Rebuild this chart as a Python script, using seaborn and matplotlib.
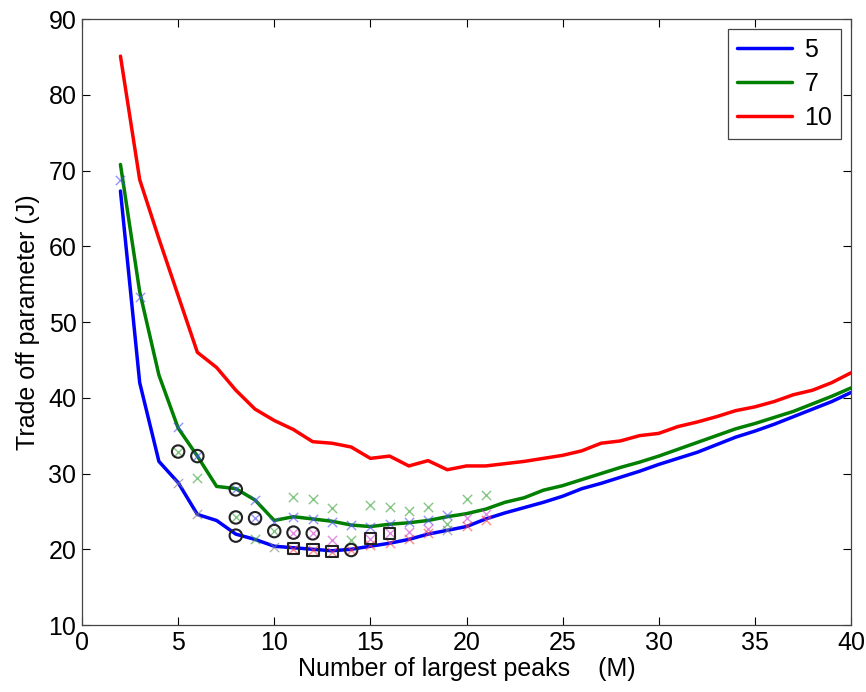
import numpy as np
import pandas as pd
import matplotlib
matplotlib.use("Agg")
import matplotlib.pyplot as plt
import seaborn as sns

# number of largest peaks M
m_vals = list(range(2, 41))

# trade-off parameter J for each window size
j_5 = [67.3, 42.0, 31.6, 28.8, 24.6, 23.8, 22.0, 21.3, 20.4, 20.2, 20.0, 19.8, 20.0,
       20.4, 20.8, 21.3, 22.0, 22.5, 23.0, 24.0, 24.8, 25.5, 26.2, 27.0, 28.0, 28.7,
       29.5, 30.3, 31.2, 32.0, 32.8, 33.8, 34.8, 35.6, 36.5, 37.5, 38.5, 39.5, 40.7]
j_7 = [70.8, 54.0, 43.0, 36.0, 32.3, 28.3, 28.0, 26.5, 23.8, 24.3, 24.0, 23.7, 23.2,
       23.0, 23.3, 23.5, 23.8, 24.3, 24.7, 25.3, 26.2, 26.8, 27.8, 28.4, 29.2, 30.0,
       30.8, 31.5, 32.3, 33.2, 34.1, 35.0, 35.9, 36.6, 37.4, 38.2, 39.2, 40.2, 41.3]
j_10 = [85.1, 68.8, 61.0, 53.5, 46.0, 44.0, 41.0, 38.5, 37.0, 35.8, 34.2, 34.0, 33.5,
        32.0, 32.3, 31.0, 31.7, 30.5, 31.0, 31.0, 31.3, 31.6, 32.0, 32.4, 33.0, 34.0,
        34.3, 35.0, 35.3, 36.2, 36.8, 37.5, 38.3, 38.8, 39.5, 40.4, 41.0, 42.0, 43.3]

# individual trial points (x markers)
blue_mx = [2, 3, 5, 6, 8, 9, 9, 10, 11, 12, 13, 14, 15, 16, 17, 18, 19]
blue_my = [68.7, 53.3, 36.1, 32.3, 27.9, 26.5, 24.1, 23.6, 24.3, 24.0, 23.6, 23.2,
           23.0, 23.3, 23.6, 23.8, 24.5]
green_mx = [5, 6, 8, 9, 10, 11, 12, 13, 14, 15, 16, 17, 18, 19, 20, 21]
green_my = [32.9, 29.4, 24.2, 21.3, 22.4, 26.9, 26.7, 25.5, 21.2, 25.8, 25.6, 25.0,
            25.6, 23.4, 26.6, 27.2]
gray_mx = [5, 6, 10, 19]
gray_my = [28.7, 24.7, 20.3, 22.5]
magenta_mx = [11, 12, 13, 15, 16, 17, 18, 20, 21]
magenta_my = [22.2, 22.1, 21.2, 21.4, 22.1, 22.3, 22.7, 24.1, 24.7]
red_mx = [11, 12, 13, 14, 15, 16, 17, 18, 20, 21]
red_my = [20.1, 19.9, 19.7, 19.9, 20.5, 20.8, 21.4, 22.2, 23.1, 23.9]

# minima markers
circle_x = [5, 6, 8, 8, 9, 10, 8, 11, 12, 14]
circle_y = [32.9, 32.3, 27.9, 24.2, 24.1, 22.4, 21.8, 22.2, 22.1, 19.9]
square_x = [11, 12, 13, 15, 16]
square_y = [20.1, 19.9, 19.7, 21.4, 22.1]

series_names = ["5", "7", "10"]
line_colors = ["#0000ff", "#007f00", "#ff0000"]

df = pd.DataFrame({
    "M": m_vals * 3,
    "J": j_5 + j_7 + j_10,
    "window": ["5"] * len(m_vals) + ["7"] * len(m_vals) + ["10"] * len(m_vals),
})

sns.set_style("ticks")
plt.rcParams["font.family"] = ["Liberation Sans", "DejaVu Sans"]
plt.rcParams["text.color"] = "black"
plt.rcParams["axes.labelcolor"] = "black"
plt.rcParams["xtick.color"] = "black"
plt.rcParams["ytick.color"] = "black"

fig = plt.figure(figsize=(8.66, 6.92), dpi=100)
ax = fig.add_axes([0.0947, 0.0968, 0.888, 0.8757])

sns.lineplot(data=df, x="M", y="J", hue="window", hue_order=series_names,
             palette=line_colors, linewidth=2.5, ax=ax, zorder=2)

# colored x markers
for xs, ys, c in [(blue_mx, blue_my, "#4d4dff"), (green_mx, green_my, "#33a033"),
                  (gray_mx, gray_my, "#808080"), (magenta_mx, magenta_my, "#d040d0"),
                  (red_mx, red_my, "#ff4040")]:
    sns.scatterplot(x=xs, y=ys, marker="x", color=c, s=45, linewidth=1.0,
                    alpha=0.6, ax=ax, legend=False, zorder=3)

sns.scatterplot(x=circle_x, y=circle_y, marker="o", s=80, facecolors="none",
                edgecolor="#222222", linewidth=1.5, ax=ax, legend=False, zorder=4)
sns.scatterplot(x=square_x, y=square_y, marker="s", s=70, facecolors="none",
                edgecolor="#222222", linewidth=1.5, ax=ax, legend=False, zorder=4)

ax.set_xlim(0, 40)
ax.set_ylim(10, 90)
ax.set_xticks(np.arange(0, 41, 5))
ax.set_yticks(np.arange(10, 91, 10))
ax.tick_params(direction="in", length=6, width=0.8, top=True, right=True,
               labelsize=18, pad=4)
for sp in ax.spines.values():
    sp.set_linewidth(0.9)
    sp.set_color("#444444")

ax.set_xlabel("Number of largest peaks    (M)", fontsize=18, labelpad=2)
ax.set_ylabel("Trade off parameter (J)", fontsize=18, labelpad=6)

leg = ax.legend(loc="upper right", fontsize=18, fancybox=False, edgecolor="#444444",
                framealpha=1, handlelength=2.2, handletextpad=0.5, borderaxespad=0.4,
                labelspacing=0.4, borderpad=0.35, title=None)
leg.get_frame().set_linewidth(0.9)

fig.savefig("out.png", dpi=100)
